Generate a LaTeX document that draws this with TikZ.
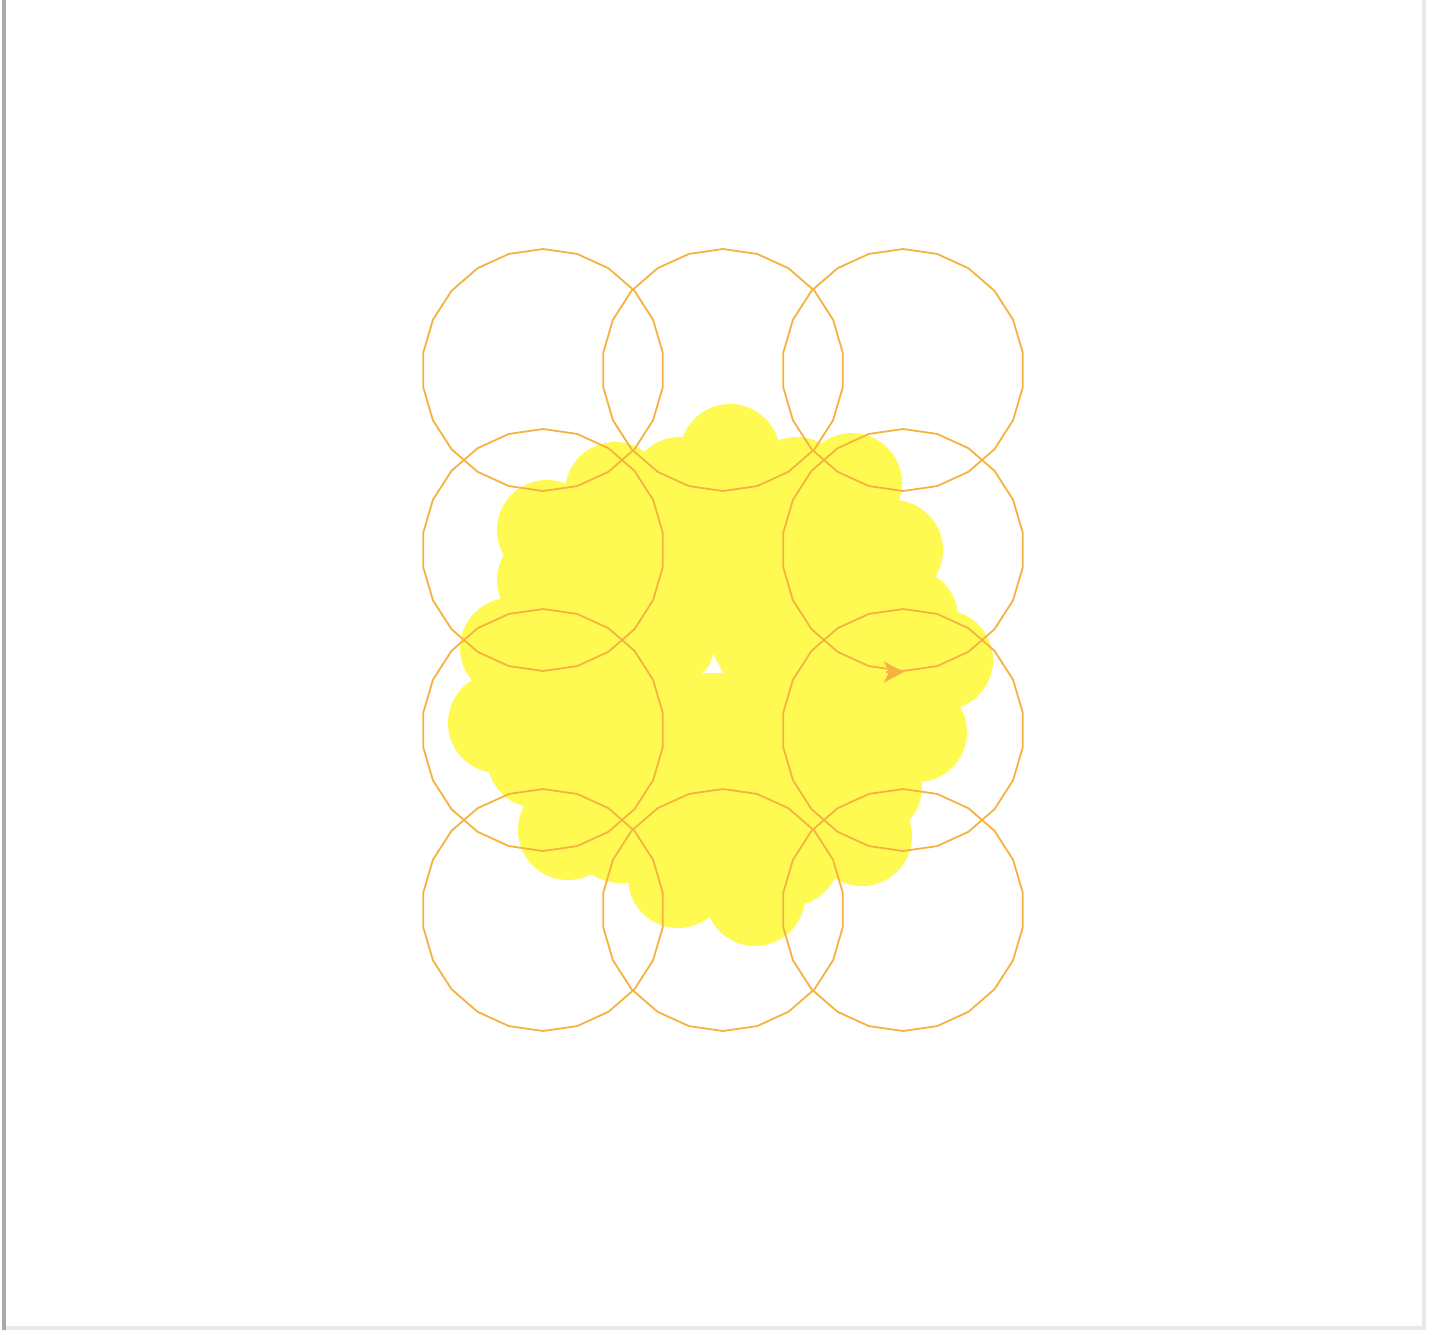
\documentclass[tikz,border=0pt]{standalone}
\usetikzlibrary{arrows.meta}
\definecolor{ringc}{RGB}{245,178,64}
\definecolor{blobc}{RGB}{255,250,82}
\definecolor{edgedark}{RGB}{170,170,170}
\definecolor{edgelight}{RGB}{232,232,232}
\tikzset{
  ring/.style={draw=ringc, line width=1.8pt, line join=round},
  blob/.style={fill=blobc, draw=none},
}
\begin{document}
\begin{tikzpicture}[x=1pt,y=-1pt]
\useasboundingbox (0,0) rectangle (1434,1334);
% frame lines
\fill[edgedark] (2,0) rectangle (6,1330);
\fill[edgelight] (1422,0) rectangle (1426,1330);
\fill[edgelight] (6,1326) rectangle (1426,1330);
% yellow blob
\fill[blob] (730,454) -- (797,487) -- (852,483) -- (893,550) -- (908,618) -- (943,660)
  -- (917,732) -- (872,787) -- (862,836) -- (790,856) -- (755,896) -- (678,878)
  -- (620,833) -- (568,830) -- (537,758) -- (498,723) -- (510,648) -- (547,580)
  -- (547,530) -- (615,492) -- (680,487) -- cycle;
\foreach \bx/\by in {730/454,797/487,852/483,893/550,908/618,943/660,917/732,872/787,
  862/836,790/856,755/896,678/878,620/833,568/830,537/758,498/723,510/648,547/580,
  547/530,615/492,680/487}{
  \fill[blob] (\bx,\by) circle[radius=50];
}
% hole
\fill[white] (713,654) .. controls (711,664) and (708,669) .. (702,673) -- (723,673) -- cycle;
% rings (22-gons)
\foreach \cx/\cy in {543/370,723/370,903/370,543/550,903/550,543/730,903/730,543/910,723/910,903/910}{
    \draw[ring] ([shift={(\cx,\cy)}]90:121)
      \foreach \k in {1,...,21}{ -- ([shift={(\cx,\cy)}]90+\k*16.363636:121) } -- cycle;
}
% arrow on the ring
\coordinate (arrowtail) at (886,672);
\coordinate (arrowtip) at (904,672);
\draw[draw=ringc, line width=1.8pt, -{Stealth[length=20pt,width=21pt,inset=5pt]}] (arrowtail) -- (arrowtip);
\end{tikzpicture}
\end{document}
